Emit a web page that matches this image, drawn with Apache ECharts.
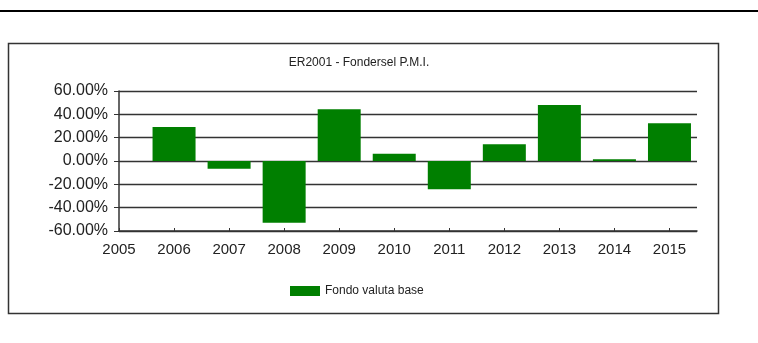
<!DOCTYPE html>
<html>
<head>
<meta charset="utf-8">
<script src="https://cdn.jsdelivr.net/npm/echarts@6/dist/echarts.min.js"></script>
<style>
  html, body { margin: 0; padding: 0; background: #ffffff; }
  #chart { width: 758px; height: 343px; }
</style>
</head>
<body>
<div id="chart"></div>
<script>
// Annual returns of the fund, per calendar year
const years = [2006, 2007, 2008, 2009, 2010, 2011, 2012, 2013, 2014, 2015];
const returns = [29.1, -6.6, -52.9, 44.3, 6.3, -24.3, 14.3, 48.0, 1.4, 32.3];
const yearTicks = [2005, 2006, 2007, 2008, 2009, 2010, 2011, 2012, 2013, 2014, 2015];
const seriesName = 'Fondo valuta base';
const chartTitle = 'ER2001 - Fondersel P.M.I.';

const FONT = '"Liberation Sans", Arial, sans-serif';
const chart = echarts.init(document.getElementById('chart'), null, { renderer: 'canvas' });

chart.setOption({
  backgroundColor: '#ffffff',
  animation: false,
  textStyle: { fontFamily: FONT },
  graphic: [
    { type: 'rect', shape: { x: 0, y: 10, width: 758, height: 2 }, style: { fill: '#000000' }, silent: true },
    { type: 'rect', shape: { x: 8.5, y: 43.5, width: 710, height: 270 }, style: { fill: 'none', stroke: '#333333', lineWidth: 1.5 }, silent: true, z: -1 }
  ],
  title: {
    text: chartTitle,
    left: 354, top: 52,
    textAlign: 'center',
    textStyle: { fontFamily: FONT, fontSize: 12, fontWeight: 'normal', color: '#222222' }
  },
  legend: {
    left: 285, top: 280,
    itemWidth: 30, itemHeight: 10, itemGap: 5,
    icon: 'rect',
    textStyle: { fontFamily: FONT, fontSize: 12, color: '#222222' },
    data: [seriesName]
  },
  grid: { left: 119, right: 61, top: 91, bottom: 112, containLabel: false },
  xAxis: {
    type: 'value',
    min: 2005, max: 2015.5,
    splitLine: { show: false },
    axisLine: { show: true, onZero: false, lineStyle: { color: '#333333', width: 1.5 } },
    axisTick: { show: true, inside: true, length: 3, customValues: yearTicks, lineStyle: { color: '#333333' } },
    axisLabel: {
      customValues: yearTicks,
      margin: 11,
      fontFamily: FONT, fontSize: 15, color: '#222222',
      formatter: v => String(v)
    }
  },
  yAxis: {
    type: 'value',
    min: -60, max: 60, interval: 20,
    axisLine: { show: true, lineStyle: { color: '#333333', width: 1.5 } },
    axisTick: { show: true, length: 5, lineStyle: { color: '#333333' } },
    splitLine: { show: true, lineStyle: { color: '#333333', width: 1.3 } },
    axisLabel: {
      margin: 11,
      fontFamily: FONT, fontSize: 16, color: '#222222',
      formatter: v => v.toFixed(2) + '%'
    }
  },
  series: [{
    name: seriesName,
    type: 'bar',
    barWidth: 43,
    itemStyle: { color: '#007f00' },
    data: years.map((y, i) => [y, returns[i]]),
    z: 3
  }]
});
</script>
</body>
</html>
